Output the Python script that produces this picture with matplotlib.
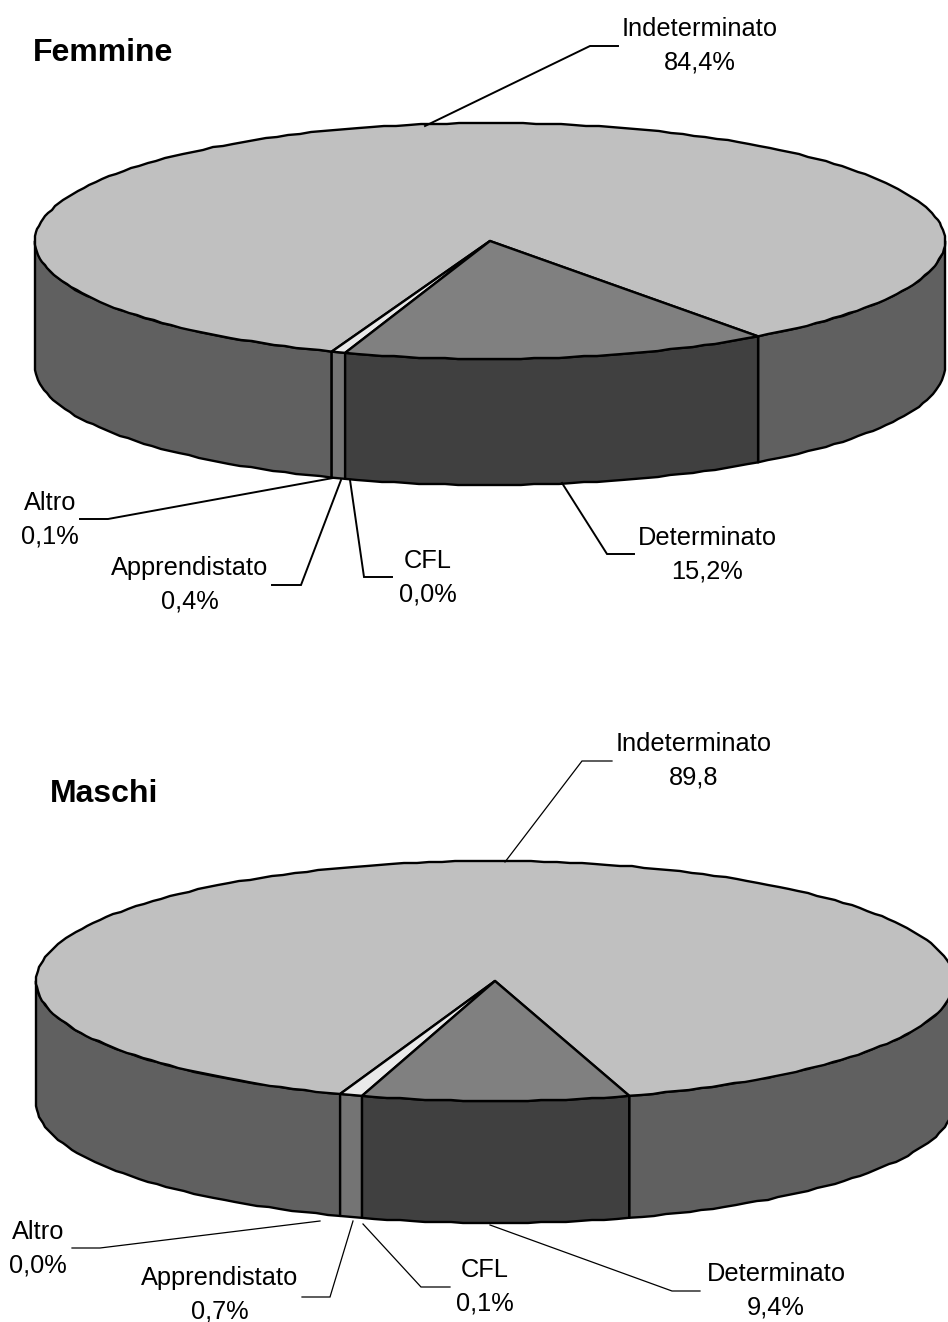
import numpy as np
import matplotlib
matplotlib.use("Agg")
import matplotlib.pyplot as plt
from matplotlib.patches import Polygon

plt.rcParams["font.family"] = ["Liberation Sans", "DejaVu Sans"]

# Contract types and shares (percent), in clockwise drawing order
categories = ["Determinato", "CFL", "Apprendistato", "Altro", "Indeterminato"]
femmine_values = [15.2, 0.0, 0.4, 0.1, 84.4]
maschi_values = [9.4, 0.1, 0.7, 0.0, 89.8]
femmine_labels = ["15,2%", "0,0%", "0,4%", "0,1%", "84,4%"]
maschi_labels = ["9,4%", "0,1%", "0,7%", "0,0%", "89,8"]

TOP_COLORS = {"det": "#808080", "small": "#E9E9E9", "ind": "#C0C0C0"}
SIDE_COLORS = {"det": "#404040", "small": "#747474", "ind": "#606060"}

fig = plt.figure(figsize=(9.48, 13.22), dpi=100, facecolor="white")
ax = fig.add_axes([0, 0, 1, 1])
ax.set_xlim(0, 948)
ax.set_ylim(1322, 0)
ax.axis("off")


def rim(cx, cy, rx, ry, a0, a1, dy=0.0):
    """Rim polyline from angle a0 to a1 in degrees, snapped to whole pixels."""
    n = max(int(abs(a1 - a0) / 1.6), 1)
    ang = np.radians(np.linspace(a0, a1, n + 1))
    x = cx + rx * np.cos(ang)
    y = cy - ry * np.sin(ang) + dy
    x[1:-1] = np.round(x[1:-1])
    y[1:-1] = np.round(y[1:-1])
    return np.column_stack([x, y])


def side_band(cx, cy, rx, ry, depth, a0, a1, color, lw):
    """Outer wall of a slice between two angles, with a0 > a1."""
    upper = rim(cx, cy, rx, ry, a0, a1)
    lower = rim(cx, cy, rx, ry, a1, a0, depth)
    ax.add_patch(Polygon(np.vstack([upper, lower]), closed=True, facecolor=color,
                         edgecolor="black", linewidth=lw, joinstyle="round", zorder=2))


def top_wedge(cx, cy, rx, ry, a0, a1, color, lw):
    pts = np.vstack([[[cx, cy]], rim(cx, cy, rx, ry, a0, a1)])
    ax.add_patch(Polygon(pts, closed=True, facecolor=color, edgecolor="black",
                         linewidth=lw, joinstyle="round", zorder=3))


def draw_pie(values, cx, cy, rx, ry, depth, start, lw):
    total = sum(values)
    deg = [v / total * 360 for v in values]
    a_det = start - deg[0]
    a_small = a_det - sum(deg[1:4])
    a_end = start - 360

    # Walls facing the viewer only: angles between 0 and -180 degrees
    side_band(cx, cy, rx, ry, depth, 0, start, SIDE_COLORS["ind"], lw)
    side_band(cx, cy, rx, ry, depth, a_small, -180, SIDE_COLORS["ind"], lw)
    side_band(cx, cy, rx, ry, depth, a_det, a_small, SIDE_COLORS["small"], lw)
    side_band(cx, cy, rx, ry, depth, start, a_det, SIDE_COLORS["det"], lw)

    top_wedge(cx, cy, rx, ry, a_small, a_end, TOP_COLORS["ind"], lw)
    top_wedge(cx, cy, rx, ry, a_det, a_small, TOP_COLORS["small"], lw)
    top_wedge(cx, cy, rx, ry, start, a_det, TOP_COLORS["det"], lw)


def leader(points, lw):
    xs, ys = zip(*points)
    ax.plot(xs, ys, color="black", linewidth=lw, solid_joinstyle="miter", zorder=4)


def label(x, y, name, value):
    ax.text(x, y, f"{name}\n{value}", ha="center", va="center", fontsize=18.3,
            linespacing=1.52, color="black", zorder=5)


# Femmine
draw_pie(femmine_values, 490, 241, 455, 118, 126, -53.9, 1.7)
ax.text(33, 53, "Femmine", fontsize=23, fontweight="bold", ha="left", va="center")
leader([(425, 126), (590, 46), (618, 46)], 1.4)
leader([(562, 483), (607, 554), (634, 554)], 1.4)
leader([(350, 480), (364, 577), (392, 577)], 1.4)
leader([(341, 480), (301, 585), (272, 585)], 1.4)
leader([(333, 478), (108, 519), (80, 519)], 1.4)
label(700, 46, categories[4], femmine_labels[4])
label(707, 555, categories[0], femmine_labels[0])
label(428, 578, categories[1], femmine_labels[1])
label(190, 585, categories[2], femmine_labels[2])
label(50, 520, categories[3], femmine_labels[3])

# Maschi
draw_pie(maschi_values, 495, 981, 459, 120, 122, -73.0, 1.7)
ax.text(50, 794, "Maschi", fontsize=23, fontweight="bold", ha="left", va="center")
leader([(505, 862), (582, 761), (612, 761)], 0.9)
leader([(490, 1225), (672, 1291), (700, 1291)], 0.9)
leader([(363, 1224), (421, 1287), (450, 1287)], 0.9)
leader([(353, 1221), (330, 1297), (302, 1297)], 0.9)
leader([(320, 1221), (100, 1248), (72, 1248)], 0.9)
label(694, 761, categories[4], maschi_labels[4])
label(776, 1291, categories[0], maschi_labels[0])
label(485, 1287, categories[1], maschi_labels[1])
label(220, 1295, categories[2], maschi_labels[2])
label(38, 1249, categories[3], maschi_labels[3])

fig.savefig("out.png", dpi=100, facecolor="white")
